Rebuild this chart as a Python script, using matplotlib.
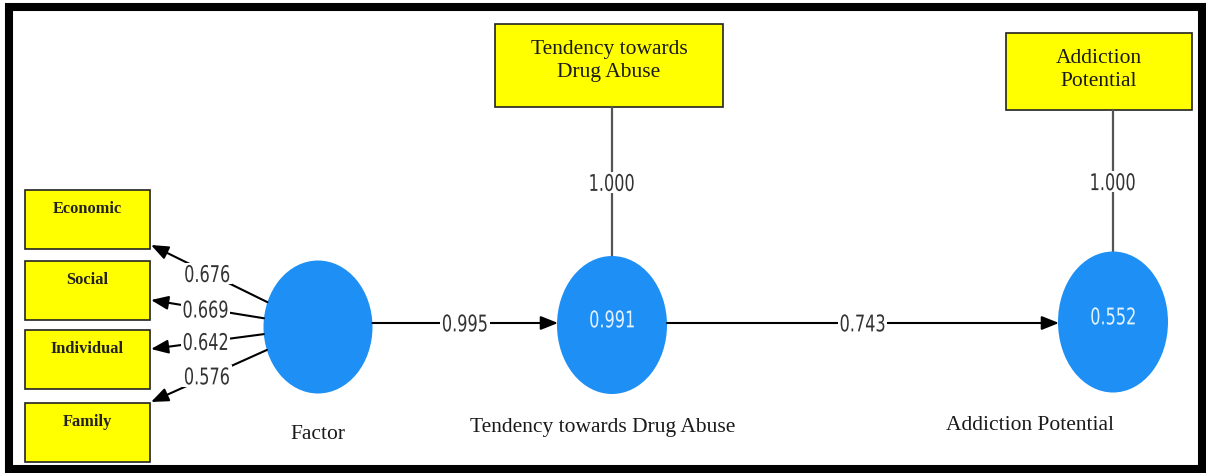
import numpy as np
import matplotlib.pyplot as plt
from matplotlib.patches import Rectangle, Ellipse, PathPatch
from matplotlib.textpath import TextPath
from matplotlib.font_manager import FontProperties
from matplotlib.transforms import Affine2D

# Modeldeki değerler
indicators = ['Economic', 'Social', 'Individual', 'Family']
loadings = [0.676, 0.669, 0.642, 0.576]
constructs = ['Factor', 'Tendency towards Drug Abuse', 'Addiction Potential']
r_squared = [None, 0.991, 0.552]
path_coefs = [0.995, 0.743]
single_items = ['Tendency towards\nDrug Abuse', 'Addiction\nPotential']
single_loadings = [1.000, 1.000]

W, H = 1206, 473
fig = plt.figure(figsize=(W / 100, H / 100), dpi=100)
ax = fig.add_axes([0, 0, 1, 1])
ax.set_xlim(0, W)
ax.set_ylim(H, 0)
ax.axis('off')

SERIF = ['Liberation Serif', 'DejaVu Serif']
LINE = '#3a3a3a'
BLUE = '#1E90F5'
YELLOW = '#FFFF00'
num_font = FontProperties(family='DejaVu Sans')

# çerçeve
ax.add_patch(Rectangle((9, 7), W - 13, H - 11, fill=False, ec='black', lw=5.8))

# yapıların yerleşimi (merkez x, merkez y, genişlik, yükseklik)
circ = [(318, 327, 109, 133), (612, 325, 110, 138), (1113, 322, 110, 141)]
label_y = [434, 427, 425]
label_x = [318, 603, 1030]


def edge_point(c, target):
    cx, cy, w, h = c
    dx, dy = target[0] - cx, target[1] - cy
    t = 1 / np.sqrt((dx / (w / 2)) ** 2 + (dy / (h / 2)) ** 2)
    return cx + dx * t, cy + dy * t


def condensed_text(x, y, s, color, bg=None, size=23, sx=0.7, z=5):
    # dar (condensed) yazı için metni yatayda sıkıştır
    tp = TextPath((0, 0), s, size=size, prop=num_font)
    bb = tp.get_extents()
    tr = (Affine2D().translate(-(bb.x0 + bb.x1) / 2, -(bb.y0 + bb.y1) / 2)
          .scale(sx, -1).translate(x, y))
    if bg:
        w = bb.width * sx + 6
        h = bb.height + 4
        ax.add_patch(Rectangle((x - w / 2, y - h / 2), w, h, fc=bg, ec='none', zorder=z - 1))
    ax.add_patch(PathPatch(tr.transform_path(tp), fc=color, ec='none', zorder=z))


def num_label(x, y, val):
    condensed_text(x, y, f'{val:.3f}', '#333333', bg='white')


def arrow(p0, p1):
    ax.annotate('', xy=p1, xytext=p0,
                arrowprops=dict(arrowstyle='-|>,head_length=0.8,head_width=0.32',
                                color=LINE, lw=1.5, shrinkA=0, shrinkB=0,
                                mutation_scale=13, fc='black', ec='black'))


# daireler
for i, (cx, cy, w, h) in enumerate(circ):
    ax.add_patch(Ellipse((cx, cy), w, h, fc=BLUE, ec='none', zorder=3))
    if r_squared[i] is not None:
        condensed_text(cx, cy - 6, f'{r_squared[i]:.3f}', '#E4F2FF')
    ax.text(label_x[i], label_y[i], constructs[i], ha='center', va='center',
            fontsize=15.5, family=SERIF, color='#1a1a1a')

# sol göstergeler
box_x, box_w, box_h = 25, 125, 59
box_tops = [190, 261, 330, 403]
tip_y = [245, 300, 349, 402]
for name, top, ty, val in zip(indicators, box_tops, tip_y, loadings):
    ax.add_patch(Rectangle((box_x, top), box_w, box_h, fc=YELLOW, ec='#222222', lw=1.2))
    ax.text(box_x + box_w / 2, top + 19, name, ha='center', va='center',
            fontsize=11.8, fontweight='bold', family=SERIF, color='#222222')
    tip = (box_x + box_w + 1, ty)
    start = edge_point(circ[0], tip)
    arrow(start, tip)
    num_label((start[0] + tip[0]) / 2 - 2, (start[1] + tip[1]) / 2, val)

# yapısal yollar
for i, val in enumerate(path_coefs):
    a, b = circ[i], circ[i + 1]
    y = 323
    x0 = a[0] + a[2] / 2
    x1 = b[0] - b[2] / 2
    arrow((x0, y), (x1 + 1, y))
    num_label((x0 + x1) / 2, y, val)

# tek göstergeli kutular
top_boxes = [(495, 24, 228, 83), (1006, 33, 186, 77)]
for i, (bx, by, bw, bh) in enumerate(top_boxes):
    c = circ[i + 1]
    ax.add_patch(Rectangle((bx, by), bw, bh, fc=YELLOW, ec='#222222', lw=1.2))
    ax.text(bx + bw / 2, by + 37, single_items[i], ha='center', va='center',
            fontsize=15.5, family=SERIF, color='#1a1a1a', linespacing=1.25)
    y0 = by + bh
    y1 = c[1] - c[3] / 2
    ax.plot([c[0], c[0]], [y0, y1], color='#555555', lw=1.6, zorder=2)
    condensed_text(c[0], (y0 + y1) / 2 + 1, f'{single_loadings[i]:.3f}', '#333333', bg='white')

fig.savefig('out.png', dpi=100)
